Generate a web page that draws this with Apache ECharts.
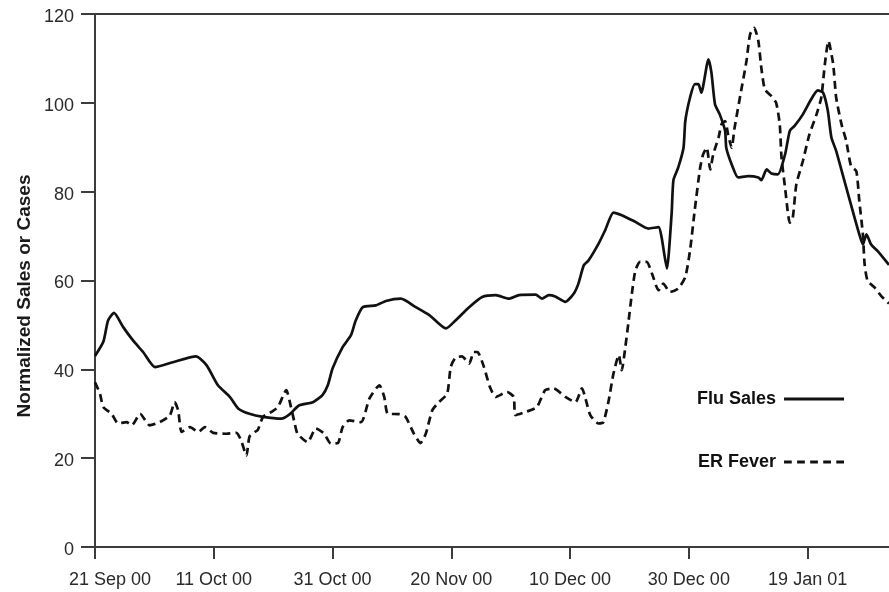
<!DOCTYPE html>
<html>
<head>
<meta charset="utf-8">
<script src="https://cdn.jsdelivr.net/npm/echarts@6/dist/echarts.min.js"></script>
<style>
  html, body { margin: 0; padding: 0; background: #fff; }
  #chart { width: 889px; height: 592px; }
</style>
</head>
<body>
<div id="chart"></div>
<script>
// x values are days since 21 Sep 2000
const xTickLabels = ['21 Sep 00', '11 Oct 00', '31 Oct 00', '20 Nov 00', '10 Dec 00', '30 Dec 00', '19 Jan 01'];
const yTicks = [0, 20, 40, 60, 80, 100, 120];
const seriesNames = ['Flu Sales', 'ER Fever'];

const fluSales = [
  [0, 43.0], [1.4, 46.2], [2.2, 51.0], [3.2, 52.7], [4.75, 49.5], [6.4, 46.5], [8.1, 43.9],
  [10.1, 40.5], [13.1, 41.6], [17.0, 42.9], [18.8, 40.9], [20.7, 36.4], [22.7, 33.8], [24.1, 31.2],
  [26.0, 30.0], [28.3, 29.3], [31.4, 28.9], [32.7, 29.8], [34.4, 31.9], [36.7, 32.6], [38.3, 34.2],
  [39.2, 36.4], [40.0, 40.2], [41.7, 45.0], [43.1, 47.7], [43.9, 51.0], [45.1, 54.0], [47.3, 54.4],
  [49.0, 55.4], [51.5, 55.9], [54.0, 54.0], [56.3, 52.2], [59.1, 49.2], [60.7, 51.0], [63.0, 54.0],
  [65.2, 56.3], [67.5, 56.7], [69.7, 55.9], [71.4, 56.7], [74.2, 56.8], [75.3, 55.9], [76.4, 56.7],
  [77.5, 56.4], [79.2, 55.2], [80.6, 57.0], [81.4, 59.3], [82.3, 63.4], [83.1, 64.5], [84.8, 68.3],
  [85.9, 71.3], [87.3, 75.3], [88.7, 74.7], [91.0, 73.2], [93.2, 71.7], [94.9, 72.0], [95.4, 69.8],
  [96.3, 62.7], [97.1, 75.1], [97.4, 82.6], [98.2, 85.4], [99.1, 89.9], [99.4, 95.9], [100.2, 101.2],
  [101.0, 104.2], [101.6, 104.2], [102.1, 102.3], [103.3, 109.8], [103.8, 106.8], [104.4, 99.7],
  [105.2, 97.4], [106.1, 93.7], [106.3, 89.9], [107.2, 86.2], [108.3, 83.2], [110.0, 83.5],
  [111.7, 83.2], [112.2, 82.6], [113.1, 85.0], [113.9, 84.1], [115.0, 83.9], [116.2, 88.4],
  [117.0, 93.7], [117.8, 94.8], [119.2, 97.4], [120.6, 100.8], [121.7, 102.8], [122.6, 102.3],
  [123.4, 98.2], [124.0, 92.2], [124.8, 89.2], [126.2, 82.4], [127.6, 75.6], [128.7, 70.4],
  [129.3, 68.1], [129.9, 70.4], [130.7, 68.1], [131.8, 66.6], [133.7, 63.5]
];

const erFever = [
  [0, 37.1], [0.84, 34.5], [1.4, 31.5], [2.8, 30.0], [3.9, 27.8], [5.3, 28.1], [6.2, 27.4],
  [7.6, 30.0], [9.2, 27.4], [10.9, 28.1], [12.6, 29.6], [13.4, 32.6], [14.0, 30.8], [14.6, 25.9],
  [16.0, 27.0], [17.4, 25.9], [18.5, 27.0], [19.9, 25.7], [22.1, 25.5], [23.8, 25.7], [24.6, 24.0],
  [25.5, 20.6], [26.0, 24.8], [26.9, 25.9], [27.4, 26.3], [28.3, 29.3], [29.7, 30.4], [30.8, 31.5],
  [32.2, 35.3], [33.0, 31.5], [33.6, 28.0], [34.1, 25.5], [35.8, 23.6], [37.2, 26.7], [38.6, 25.5],
  [39.7, 23.3], [40.9, 23.4], [41.7, 27.0], [42.8, 28.5], [44.8, 28.1], [46.2, 33.4], [47.9, 36.4],
  [48.7, 33.8], [49.3, 30.0], [51.2, 29.9], [52.3, 29.3], [53.7, 25.5], [54.8, 23.4], [55.7, 25.5],
  [56.8, 30.8], [57.9, 32.6], [59.3, 34.5], [59.9, 40.5], [60.7, 42.6], [61.8, 42.9], [63.0, 41.3],
  [63.8, 43.9], [64.4, 43.9], [65.5, 40.5], [66.5, 36.0], [67.5, 33.8], [69.4, 34.9], [70.5, 33.8],
  [70.8, 29.7], [72.5, 30.4], [74.4, 31.5], [75.8, 35.3], [77.2, 35.7], [79.2, 33.8], [80.9, 32.6],
  [82.0, 35.7], [82.6, 33.4], [83.4, 29.7], [84.8, 27.8], [85.6, 28.1], [86.5, 33.0], [87.3, 39.0],
  [88.2, 43.2], [88.7, 39.8], [89.3, 45.0], [89.8, 50.3], [90.4, 57.0], [91.0, 62.3], [91.8, 64.2],
  [92.9, 64.2], [93.8, 61.5], [94.9, 57.8], [95.7, 59.3], [96.8, 57.4], [98.2, 58.2], [99.4, 60.8],
  [100.2, 66.8], [101.0, 76.0], [101.9, 85.4], [102.4, 88.4], [103.0, 89.9], [103.6, 85.0],
  [104.1, 88.4], [105.0, 92.2], [105.5, 95.2], [106.1, 95.9], [106.6, 92.9], [107.2, 89.9],
  [107.7, 94.4], [108.8, 102.7], [109.7, 109.4], [110.3, 115.4], [111.0, 116.9], [111.7, 113.9],
  [112.2, 107.9], [112.8, 103.0], [113.9, 101.5], [114.7, 100.0], [115.3, 95.2], [115.6, 87.7],
  [116.2, 80.9], [117.0, 73.0], [117.5, 74.2], [118.1, 81.7], [119.2, 86.9], [120.3, 92.9],
  [121.5, 97.4], [122.3, 101.2], [122.9, 108.7], [123.5, 113.9], [124.3, 108.7], [124.8, 101.2],
  [125.7, 95.2], [126.5, 91.4], [127.3, 85.8], [128.2, 84.6], [128.7, 77.9], [129.3, 70.4],
  [129.6, 63.6], [130.1, 59.9], [131.3, 58.4], [132.4, 56.5], [133.7, 54.8]
];

const FONT = '"Liberation Sans", Arial, Helvetica, sans-serif';
const AXIS_COLOR = '#3c3c3c';
// legend samples: a solid bar and five dashes
const SOLID_ICON = 'path://M0 0H62V3H0Z';
const DASH_ICON = 'path://M0 0H8V3H0Z M13.5 0H21.5V3H13.5Z M27 0H35V3H27Z M40.5 0H48.5V3H40.5Z M54 0H62V3H54Z';

const chart = echarts.init(document.getElementById('chart'), null, { renderer: 'canvas' });

chart.setOption({
  animation: false,
  backgroundColor: '#ffffff',
  textStyle: { fontFamily: FONT },
  grid: { left: 95, right: -2, top: 14, bottom: 45, containLabel: false },
  legend: {
    orient: 'vertical',
    left: 697,
    top: 390,
    padding: 0,
    align: 'right',
    itemWidth: 60,
    itemHeight: 3,
    itemGap: 45,
    selectedMode: false,
    itemStyle: { color: '#111', borderWidth: 0 },
    textStyle: { fontFamily: FONT, fontSize: 18, fontWeight: 'bold', color: '#111', padding: [0, 3, 0, 0] },
    data: [
      { name: seriesNames[0], icon: SOLID_ICON },
      { name: seriesNames[1], icon: DASH_ICON }
    ]
  },
  graphic: [{
    type: 'text',
    x: 25,
    y: 296,
    rotation: Math.PI / 2,
    style: {
      text: 'Normalized Sales or Cases',
      font: 'bold 19px ' + FONT,
      fill: '#1a1a1a',
      align: 'center',
      verticalAlign: 'middle'
    }
  }],
  xAxis: [{
    type: 'value',
    min: 0,
    max: 133.7,
    interval: 20,
    position: 'bottom',
    axisLine: { show: true, lineStyle: { color: AXIS_COLOR, width: 2 } },
    axisTick: { show: true, length: 12, lineStyle: { color: AXIS_COLOR, width: 2 } },
    splitLine: { show: false },
    axisLabel: {
      margin: 24,
      fontSize: 18,
      fontFamily: FONT,
      color: '#2a2a2a',
      showMaxLabel: false,
      formatter: function (v) {
        const i = Math.round(v / 20);
        if (Math.abs(v - i * 20) > 1e-6 || !xTickLabels[i]) return '';
        return i === 0 ? '{first|' + xTickLabels[i] + '}' : xTickLabels[i];
      },
      rich: {
        first: { fontSize: 18, fontFamily: FONT, color: '#2a2a2a', padding: [0, 0, 0, 30] }
      }
    }
  }, {
    type: 'value',
    min: 0,
    max: 133.7,
    position: 'top',
    axisLine: { show: true, onZero: false, lineStyle: { color: AXIS_COLOR, width: 2 } },
    axisTick: { show: false },
    axisLabel: { show: false },
    splitLine: { show: false }
  }],
  yAxis: {
    type: 'value',
    min: yTicks[0],
    max: yTicks[yTicks.length - 1],
    interval: 20,
    axisLine: { show: true, lineStyle: { color: AXIS_COLOR, width: 2 } },
    axisTick: { show: true, length: 14, lineStyle: { color: AXIS_COLOR, width: 2 } },
    splitLine: { show: false },
    axisLabel: {
      margin: 21, fontSize: 18, fontFamily: FONT, color: '#2a2a2a',
      verticalAlign: 'top', lineHeight: 6
    }
  },
  series: [{
    name: seriesNames[0],
    type: 'line',
    data: fluSales,
    showSymbol: false,
    symbol: 'none',
    smooth: 0.2,
    lineStyle: { color: '#111', width: 2.7, type: 'solid' },
    itemStyle: { color: '#111' }
  }, {
    name: seriesNames[1],
    type: 'line',
    data: erFever,
    showSymbol: false,
    symbol: 'none',
    smooth: 0.2,
    lineStyle: { color: '#111', width: 2.7, type: [8, 5] },
    itemStyle: { color: '#111' }
  }]
});
</script>
</body>
</html>
